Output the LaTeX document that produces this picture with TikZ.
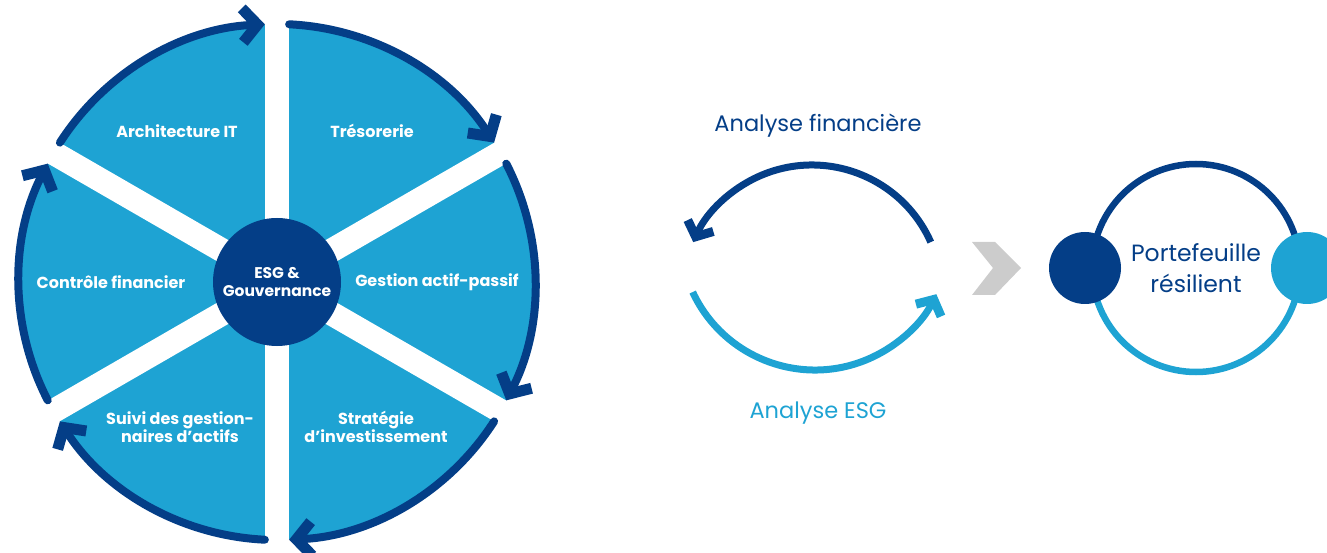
\documentclass[tikz,border=0pt]{standalone}
\usepackage{fontspec}
\setmainfont{Poppins}
\usetikzlibrary{calc,arrows.meta}
\definecolor{navy}{HTML}{043E87}
\definecolor{sky}{HTML}{1EA3D3}
\definecolor{chevgray}{HTML}{CCCCCC}

\begin{document}
\begin{tikzpicture}[x=1pt,y=1pt,
    wedgelabel/.style={text=white,font=\fontsize{16}{18.5}\selectfont\bfseries,align=center,inner sep=0pt},
    hub/.style={circle,fill=navy,minimum size=128pt,inner sep=0pt,text=white,
                font=\fontsize{15.5}{18}\selectfont\bfseries,align=center},
    gapbar/.style={white,line width=24pt},
    cyclearrow/.style={navy,line width=8pt,line cap=round,-{Straight Barb[length=15pt,width=34pt,line width=3pt 1,line cap=butt]}},
    looplabel/.style={font=\fontsize{22.5}{26}\selectfont,inner sep=0pt},
    looparrow/.style={line width=7pt,-{Straight Barb[length=12pt,width=28pt,line width=2pt 1,line cap=butt]}},
    dot/.style={circle,minimum size=72pt,inner sep=0pt}]
  \clip (0,0) rectangle (1327,552);
  % wheel
  \coordinate (C) at (277,270);
  \fill[sky] (C) circle[radius=258];
  \draw[gapbar] ($(C)+(90:275)$) -- ($(C)+(270:275)$);
  \draw[gapbar] ($(C)+(30:275)$) -- ($(C)+(210:275)$);
  \draw[gapbar] ($(C)+(150:275)$) -- ($(C)+(330:275)$);
  \draw[cyclearrow] ($(C)+(87.3:258)$) arc[start angle=87.3,end angle=32.7,radius=258];
  \draw[cyclearrow] ($(C)+(27.3:258)$) arc[start angle=27.3,end angle=-27.3,radius=258];
  \draw[cyclearrow] ($(C)+(-32.7:258)$) arc[start angle=-32.7,end angle=-87.3,radius=258];
  \draw[cyclearrow] ($(C)+(-92.7:258)$) arc[start angle=-92.7,end angle=-147.3,radius=258];
  \draw[cyclearrow] ($(C)+(-152.7:258)$) arc[start angle=-152.7,end angle=-207.3,radius=258];
  \draw[cyclearrow] ($(C)+(147.3:258)$) arc[start angle=147.3,end angle=92.7,radius=258];
  \node[hub] (esg) at (C) {ESG \&\\Gouvernance};
  \node[wedgelabel] (archi) at (177,421) {Architecture IT};
  \node[wedgelabel] (treso) at (372,421) {Trésorerie};
  \node[wedgelabel] (alm) at (437,270) {Gestion actif-passif};
  \node[wedgelabel] (strat) at (376,125) {Stratégie\\d’investissement};
  \node[wedgelabel] (suivi) at (180,125) {Suivi des gestion-\\naires d’actifs};
  \node[wedgelabel] (ctrl) at (111,270) {Contrôle financier};
  % analysis loop
  \node[looplabel,text=navy] (fin) at (818,426) {Analyse financière};
  \node[looplabel,text=sky] (esga) at (818,139) {Analyse ESG};
  \draw[looparrow,navy] ($(812,257)+(24:130)$) arc[start angle=24,end angle=156,radius=130];
  \draw[looparrow,sky] ($(815,317)+(205:135)$) arc[start angle=205,end angle=334,radius=135];
  \fill[chevgray] (972,310) -- (995,310) -- (1021,284) -- (995,257) -- (972,257) -- (993,284) -- cycle;
  % result
  \coordinate (P) at (1196,284);
  \draw[navy,line width=6.5pt] ($(P)+(0:104)$) arc[start angle=0,end angle=180,radius=104];
  \draw[sky,line width=6.5pt] ($(P)+(180:104)$) arc[start angle=180,end angle=360,radius=104];
  \node[dot,fill=navy] (left) at (1085,284) {};
  \node[dot,fill=sky] (right) at (1307,284) {};
  \node[looplabel,text=navy,align=center,font=\fontsize{23.5}{31}\selectfont] (port) at (P) {Portefeuille\\résilient};
\end{tikzpicture}
\end{document}
